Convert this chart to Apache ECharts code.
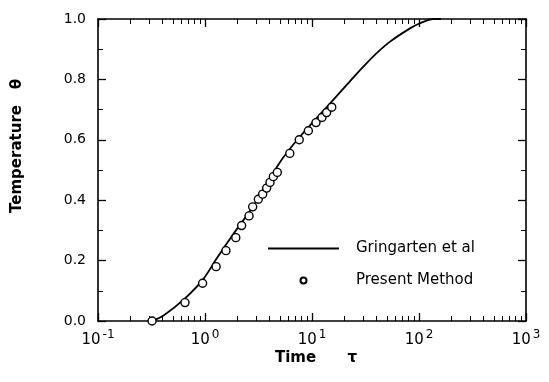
<!DOCTYPE html>
<html>
<head>
<meta charset="utf-8">
<script src="https://cdn.jsdelivr.net/npm/echarts@6/dist/echarts.min.js"></script>
<style>
html,body{margin:0;padding:0;background:#fff;}
#chart{width:549px;height:382px;}
</style>
</head>
<body>
<div id="chart"></div>
<script>
// Gringarten et al (solid line)
var lineTau   = [0.32, 0.41, 0.65, 0.96, 1.29, 1.84, 2.8, 5.0, 7.7, 14.7, 21, 30.2, 40, 53.6, 82.4, 102, 136, 160];
var lineTheta = [0.0, 0.018, 0.075, 0.138, 0.208, 0.288, 0.378, 0.525, 0.61, 0.72, 0.781, 0.842, 0.886, 0.925, 0.969, 0.986, 1.0, 1.0];
// Present Method (open circles)
var ptTau   = [0.32, 0.65, 0.95, 1.27, 1.57, 1.94, 2.2, 2.58, 2.79, 3.15, 3.46, 3.77, 4.05, 4.35, 4.74, 6.2, 7.6, 9.25, 10.9, 12.4, 13.7, 15.3];
var ptTheta = [0.0, 0.061, 0.125, 0.18, 0.233, 0.276, 0.316, 0.348, 0.378, 0.403, 0.42, 0.44, 0.459, 0.478, 0.492, 0.555, 0.6, 0.63, 0.657, 0.674, 0.69, 0.708];
var seriesNames = ['Gringarten et al', 'Present Method'];
var xTitle = 'Time';
var xSymbol = 'τ';
var yTitle = 'Temperature';
var ySymbol = 'θ';

function zip(a, b) { return a.map(function (v, i) { return [v, b[i]]; }); }

var FONT = 'DejaVu Sans';
var axisLine = { show: true, onZero: false, lineStyle: { color: '#000', width: 1.6 } };
var tickStyle = { show: true, inside: true, length: 8, lineStyle: { color: '#000', width: 1.3 } };
var minor = function (n) { return { show: true, splitNumber: n, length: 5, lineStyle: { color: '#000', width: 1 } }; };

var chart = echarts.init(document.getElementById('chart'));
chart.setOption({
  animation: false,
  backgroundColor: '#fff',
  grid: { left: 98, right: 23, top: 19, bottom: 61 },
  xAxis: [{
    type: 'log', logBase: 10, min: 0.1, max: 1000, position: 'bottom',
    axisLine: axisLine, axisTick: tickStyle, minorTick: minor(9),
    splitLine: { show: false },
    axisLabel: {
      margin: 8, color: '#000', fontFamily: FONT,
      formatter: function (v) { return '{b|10}{s|' + Math.round(Math.log10(v)) + '}'; },
      rich: { b: { fontSize: 15, fontFamily: FONT, color: '#000' }, s: { fontSize: 12, fontFamily: FONT, color: '#000', padding: [0, 0, 10, 2] } }
    }
  }, {
    type: 'log', logBase: 10, min: 0.1, max: 1000, position: 'top',
    axisLine: axisLine, axisTick: tickStyle, minorTick: minor(9),
    splitLine: { show: false }, axisLabel: { show: false }
  }],
  yAxis: [{
    type: 'value', min: 0, max: 1, interval: 0.2, position: 'left',
    axisLine: axisLine, axisTick: tickStyle, minorTick: minor(2),
    splitLine: { show: false },
    axisLabel: { margin: 12, color: '#000', fontFamily: FONT, fontSize: 14, formatter: function (v) { return v.toFixed(1); } }
  }, {
    type: 'value', min: 0, max: 1, interval: 0.2, position: 'right',
    axisLine: axisLine, axisTick: tickStyle, minorTick: minor(2),
    splitLine: { show: false }, axisLabel: { show: false }
  }],
  legend: {
    orient: 'vertical', left: 262, top: 236,
    itemWidth: 71, itemHeight: 6, itemGap: 17,
    data: [
      { name: seriesNames[0], itemStyle: { color: 'rgba(0,0,0,0)', borderColor: 'rgba(0,0,0,0)', borderWidth: 0 } },
      { name: seriesNames[1] }
    ],
    textStyle: { fontFamily: FONT, fontSize: 15, color: '#000', padding: [0, 0, 0, 12] }
  },
  series: [{
    name: seriesNames[0], type: 'line', xAxisIndex: 0, yAxisIndex: 0,
    data: zip(lineTau, lineTheta), symbol: 'none', smooth: 0.3,
    lineStyle: { color: '#000', width: 1.8 }, itemStyle: { color: '#000' }, z: 3
  }, {
    name: seriesNames[1], type: 'scatter', xAxisIndex: 0, yAxisIndex: 0,
    data: zip(ptTau, ptTheta), symbol: 'circle', symbolSize: 8,
    itemStyle: { color: '#fff', borderColor: '#000', borderWidth: 1.4, opacity: 1 }, z: 4
  }],
  graphic: [{
    type: 'text', left: 275, top: 351,
    style: { text: xTitle + '      ' + xSymbol, font: 'bold 15px "DejaVu Sans"', fill: '#000' }
  }, {
    type: 'text', x: 17, y: 146, rotation: Math.PI / 2,
    style: { text: yTitle + '   ' + ySymbol, font: 'bold 15px "DejaVu Sans"', fill: '#000', align: 'center', verticalAlign: 'middle' }
  }]
});
</script>
</body>
</html>
